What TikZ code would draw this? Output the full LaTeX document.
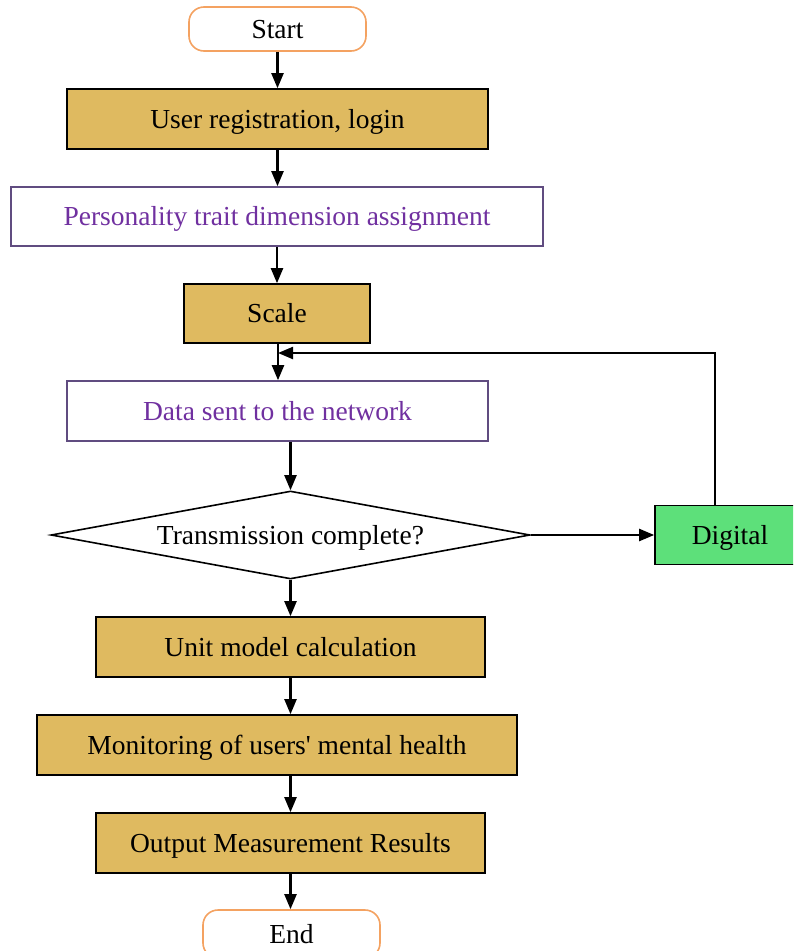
\documentclass[tikz,border=0pt]{standalone}
\usepackage{fontspec}
\setmainfont{Liberation Serif}
\newfontfamily\rawserif{Liberation Serif}
\usetikzlibrary{shapes.geometric,arrows.meta}
\definecolor{gold}{RGB}{223,186,96}
\definecolor{dgreen}{RGB}{93,224,122}
\definecolor{borange}{RGB}{244,162,97}
\definecolor{ptext}{RGB}{112,48,160}
\definecolor{pborder}{RGB}{96,76,128}
\begin{document}
\begin{tikzpicture}[x=1pt,y=-1pt,
  every node/.style={font=\fontsize{27.5}{32}\selectfont, inner sep=0pt, text height=18pt, text depth=0pt},
  goldbox/.style={draw=black, line width=1.6pt, fill=gold, rectangle},
  purplebox/.style={draw=pborder, line width=1.6pt, fill=white, text=ptext, rectangle},
  termbox/.style={draw=borange, line width=1.6pt, fill=white, rounded corners=15pt, rectangle},
  greenbox/.style={draw=black, line width=1.6pt, fill=dgreen, rectangle},
  flow/.style={line width=2.2pt, -{Triangle[length=15pt,width=12pt]}}]
\useasboundingbox (0,0) rectangle (793,951);
\clip (0,0) rectangle (793,951);
\node[termbox, minimum width=177, minimum height=44] (start) at (277.5,29) {Start};
\node[goldbox, minimum width=421, minimum height=60] (reg) at (277.5,119) {User registration, login};
\node[purplebox, minimum width=532, minimum height=59] (pers) at (277,216.5) {Personality trait dimension assignment};
\node[goldbox, minimum width=186, minimum height=59] (scale) at (277,313.5) {Scale};
\node[purplebox, minimum width=421, minimum height=60] (data) at (277.5,411) {Data sent to the network};
\node[draw=black, line width=1.6pt, fill=white, diamond, aspect=5.44, minimum width=479, minimum height=88] (dec) at (290.5,535) {Transmission complete?};
\node[greenbox, minimum width=150, minimum height=59] (dig) at (730,535) {Digital};
\node[goldbox, minimum width=389, minimum height=60] (unit) at (290.5,647) {Unit model calculation};
\node[goldbox, minimum width=480, minimum height=60] (mon) at (277,745) {Monitoring of users{\rawserif'} mental health};
\node[goldbox, minimum width=389, minimum height=60] (out) at (290.5,843) {Output Measurement Results};
\node[termbox, minimum width=177, minimum height=48] (end) at (291.5,934) {End};
\coordinate (join) at (278,353);
\coordinate (turn) at (715,353);
\draw[flow] (start.south -| reg.north) -- (reg.north);
\draw[flow] (reg.south) -- (reg.south |- pers.north);
\draw[flow] (pers.south -| scale.north) -- (scale.north);
\draw[flow] (scale.south -| join) -- (join |- data.north);
\draw[flow] (data.south -| dec.north) -- (dec.north);
\draw[flow] (dec.east) -- (dig.west);
\draw[flow] (turn |- dig.north) -- (turn) -- (join);
\draw[flow] (dec.south) -- (dec.south |- unit.north);
\draw[flow] (unit.south) -- (unit.south |- mon.north);
\draw[flow] (mon.south -| out.north) -- (out.north);
\draw[flow] (out.south) -- (out.south |- end.north);
\end{tikzpicture}
\end{document}
